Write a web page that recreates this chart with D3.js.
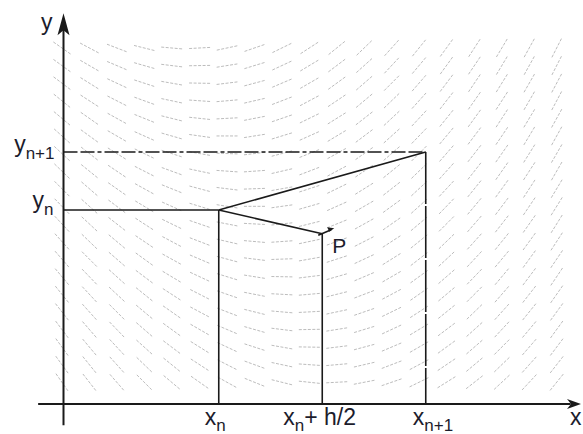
<!DOCTYPE html>
<html>
<head>
<meta charset="utf-8">
<script src="https://cdn.jsdelivr.net/npm/d3@7"></script>
<style>
  html, body { margin: 0; padding: 0; background: #fff; }
  svg { display: block; }
  text { font-family: "Liberation Sans", Arial, sans-serif; fill: #1c1c2c; }
</style>
</head>
<body>
<div id="chart"></div>
<script>
// step points (math units, same scale on both axes)
const xPoints = [3, 5, 7];            // x_n, x_n + h/2, x_{n+1}
const xLabels = ["n", "n+ h/2", "n+1"];
const yPoints = [3.75, 4.87];         // y_n, y_{n+1}
const yLabels = ["n", "n+1"];
const pointP = [5, 3.29];             // midpoint estimate P

// slope field grid
const fieldX = [-0.03, 0.50, 1.03, 1.56, 2.09, 2.63, 3.16, 3.69, 4.22, 4.75,
                5.28, 5.81, 6.34, 6.87, 7.40, 7.94, 8.47, 9.00, 9.53];
const fieldY = [6.88, 6.54, 6.20, 5.86, 5.52, 5.18, 4.84, 4.50, 4.16, 3.82,
                3.48, 3.14, 2.80, 2.46, 2.12, 1.78, 1.44, 1.10, 0.76, 0.42];
// angle of each little segment in degrees, one row per fieldY
const slopeAngles = [
  [-35,-28,-21,-14,-5,3,12,19,26,33,39,44,48,51,54,57,59,61,63],
  [-36,-30,-23,-16,-7,1,9,17,25,31,37,42,47,50,54,56,59,61,63],
  [-37,-32,-25,-18,-10,-1,7,15,23,30,36,41,45,49,53,56,58,60,62],
  [-39,-33,-27,-20,-12,-4,5,13,21,28,34,40,44,48,52,55,57,60,62],
  [-40,-35,-29,-22,-14,-6,3,11,19,26,32,38,43,47,51,54,57,59,61],
  [-42,-36,-30,-24,-16,-8,0,9,17,24,31,37,42,46,50,53,56,59,61],
  [-43,-38,-32,-26,-18,-10,-2,7,15,22,29,35,41,45,49,52,55,58,60],
  [-44,-39,-34,-27,-20,-12,-4,4,13,21,28,34,39,44,48,52,55,57,60],
  [-45,-41,-35,-29,-22,-15,-7,2,10,18,26,32,38,43,47,51,54,57,59],
  [-46,-42,-37,-31,-24,-17,-9,0,8,16,24,30,36,42,46,50,53,56,58],
  [-47,-43,-38,-33,-26,-19,-11,-3,6,14,22,29,35,40,45,49,52,55,58],
  [-48,-44,-40,-34,-28,-21,-13,-5,4,12,20,27,33,39,44,48,51,54,57],
  [-49,-45,-41,-36,-29,-23,-15,-7,2,10,18,25,32,38,43,47,50,54,56],
  [-50,-46,-42,-37,-31,-25,-17,-9,-1,7,16,23,30,36,41,46,50,53,56],
  [-51,-47,-43,-39,-33,-27,-19,-11,-3,5,14,21,28,35,40,45,49,52,55],
  [-52,-48,-45,-40,-35,-28,-21,-14,-5,3,12,19,26,33,39,44,48,51,54],
  [-53,-49,-46,-41,-36,-30,-23,-16,-7,1,9,17,25,31,37,42,47,50,54],
  [-54,-50,-47,-42,-37,-32,-25,-18,-10,-1,7,15,23,30,36,41,45,49,53],
  [-54,-51,-48,-44,-39,-33,-27,-20,-12,-4,5,13,21,28,34,40,44,48,52],
  [-55,-52,-49,-45,-40,-35,-29,-22,-14,-6,3,11,19,26,32,38,43,47,51]
];

const W = 583, H = 434;
const svg = d3.select("#chart").append("svg")
    .attr("width", W)
    .attr("height", H);

const x = d3.scaleLinear().domain([0, 10]).range([63.5, 581]);
const y = d3.scaleLinear().domain([0, 7.5]).range([404, 15.9]);

// slope field
const segLen = 10.5;
const cells = [];
fieldY.forEach((fy, j) => fieldX.forEach((fx, i) => {
    cells.push({ fx, fy, a: slopeAngles[j][i] * Math.PI / 180 });
}));
svg.append("g").selectAll("line")
    .data(cells)
    .enter().append("line")
    .attr("x1", d => x(d.fx) - segLen * Math.cos(d.a))
    .attr("y1", d => y(d.fy) + segLen * Math.sin(d.a))
    .attr("x2", d => x(d.fx) + segLen * Math.cos(d.a))
    .attr("y2", d => y(d.fy) - segLen * Math.sin(d.a))
    .attr("stroke", "#b4b4b4")
    .attr("stroke-width", 0.9)
    .attr("stroke-dasharray", "3,1.5");

// axes
const axisG = svg.append("g").attr("stroke", "#1a1a1a").attr("stroke-width", 2);
axisG.append("line")
    .attr("x1", x(-0.49)).attr("x2", x(9.8))
    .attr("y1", y(0)).attr("y2", y(0));
axisG.append("line")
    .attr("x1", x(0)).attr("x2", x(0))
    .attr("y1", y(-0.41)).attr("y2", y(7.3));
// arrowheads
svg.append("path")
    .attr("d", `M${x(0)},${y(7.55)} L${x(0) - 6},${y(7.55) + 22} L${x(0)},${y(7.55) + 17} L${x(0) + 6},${y(7.55) + 22} Z`)
    .attr("fill", "#1a1a1a");
svg.append("path")
    .attr("d", `M${x(10)},${y(0)} L${x(10) - 14},${y(0) - 5} L${x(10) - 10},${y(0)} L${x(10) - 14},${y(0) + 5} Z`)
    .attr("fill", "#1a1a1a");

const lines = svg.append("g").attr("stroke", "#1a1a1a").attr("stroke-width", 1.6).attr("fill", "none");
// y_n horizontal
lines.append("line")
    .attr("x1", x(0)).attr("x2", x(xPoints[0]))
    .attr("y1", y(yPoints[0])).attr("y2", y(yPoints[0]));
// y_{n+1} dash-dot
lines.append("line")
    .attr("x1", x(0)).attr("x2", x(xPoints[2]))
    .attr("y1", y(yPoints[1])).attr("y2", y(yPoints[1]))
    .attr("stroke-dasharray", "14,3,14,3,4,3");
// verticals
lines.append("line")
    .attr("x1", x(xPoints[0])).attr("x2", x(xPoints[0]))
    .attr("y1", y(yPoints[0])).attr("y2", y(0));
lines.append("line")
    .attr("x1", x(xPoints[1])).attr("x2", x(xPoints[1]))
    .attr("y1", y(pointP[1])).attr("y2", y(0));
lines.append("line")
    .attr("x1", x(xPoints[2])).attr("x2", x(xPoints[2]))
    .attr("y1", y(yPoints[1])).attr("y2", y(0))
    .attr("stroke-dasharray", "52,2");
// secant from (x_n, y_n) to (x_{n+1}, y_{n+1})
lines.append("line")
    .attr("x1", x(xPoints[0])).attr("x2", x(xPoints[2]))
    .attr("y1", y(yPoints[0])).attr("y2", y(yPoints[1]));
// euler half step to P
lines.append("line")
    .attr("x1", x(xPoints[0])).attr("x2", x(pointP[0]))
    .attr("y1", y(yPoints[0])).attr("y2", y(pointP[1]));
// small arrow at P
const px = x(pointP[0]), py = y(pointP[1]);
lines.append("line")
    .attr("x1", px - 4).attr("y1", py + 1.5)
    .attr("x2", px + 9).attr("y2", py - 4);
svg.append("path")
    .attr("d", `M${px + 12},${py - 5.5} L${px + 5},${py - 6.5} L${px + 7},${py - 2} Z`)
    .attr("fill", "#1a1a1a");

// labels
const big = 23, small = 17;
function subLabel(tx, ty, anchor, main, sub, shift) {
    const t = svg.append("text")
        .attr("x", tx).attr("y", ty)
        .attr("text-anchor", anchor)
        .attr("font-size", big);
    t.append("tspan").text(main);
    t.append("tspan").attr("font-size", small).attr("dy", shift).text(sub);
    return t;
}
subLabel(x(0) - 9, y(yPoints[1]), "end", "y", yLabels[1], 7);
subLabel(x(0) - 10, y(yPoints[0]) - 2, "end", "y", yLabels[0], 7);

const baseX = 425;
subLabel(x(xPoints[0]) - 14, baseX, "start", "x", xLabels[0], 6);
const mid = svg.append("text")
    .attr("x", x(xPoints[1]) - 39).attr("y", baseX)
    .attr("font-size", big);
mid.append("tspan").text("x");
mid.append("tspan").attr("font-size", small).attr("dy", 6).text("n");
mid.append("tspan").attr("dy", -6).text("+ h/2");
subLabel(x(xPoints[2]) - 13, baseX, "start", "x", xLabels[2], 6);

svg.append("text")
    .attr("x", x(0) - 11).attr("y", 30)
    .attr("text-anchor", "end")
    .attr("font-size", big)
    .text("y");
svg.append("text")
    .attr("x", 570).attr("y", baseX)
    .attr("font-size", big)
    .text("x");
svg.append("text")
    .attr("x", px + 10).attr("y", py + 19)
    .attr("font-size", 21)
    .text("P");
</script>
</body>
</html>
